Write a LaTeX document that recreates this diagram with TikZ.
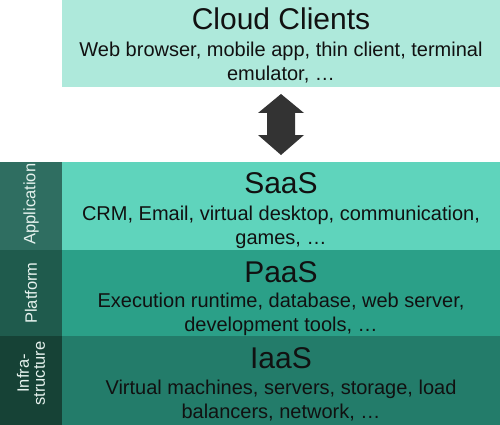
\documentclass[tikz,border=0pt]{standalone}
\usepackage{fontspec}
\setmainfont{Liberation Sans}
\usetikzlibrary{calc}
\definecolor{cloudbg}{HTML}{AEE9DB}
\definecolor{saasbg}{HTML}{5FD4BC}
\definecolor{paasbg}{HTML}{2BA088}
\definecolor{iaasbg}{HTML}{237C6A}
\definecolor{appbg}{HTML}{2F6E61}
\definecolor{platbg}{HTML}{1F5B4D}
\definecolor{infbg}{HTML}{164236}
\definecolor{arrowc}{HTML}{333333}
\definecolor{txt}{HTML}{111111}
\definecolor{sidetxt}{HTML}{E6F2EE}
\begin{document}
\begin{tikzpicture}[x=1pt,y=-1pt,
  band/.style={inner sep=0pt, outer sep=0pt, anchor=north west, minimum width=438pt},
  side/.style={inner sep=0pt, outer sep=0pt, anchor=north west, minimum width=62pt},
  title/.style={inner sep=0pt, anchor=base, text=txt, font=\fontsize{30}{36}\selectfont},
  desc/.style={inner sep=0pt, anchor=base, text=txt, font=\fontsize{20}{24}\selectfont},
  sidelabel/.style={inner sep=0pt, rotate=90, text=sidetxt, align=center, font=\fontsize{16.5}{16}\selectfont}]
\useasboundingbox (0,0) rectangle (500,425);
% bands
\node[band, fill=cloudbg, minimum height=87pt] (clients) at (62,0) {};
\node[band, fill=saasbg, minimum height=88pt] (saas) at (62,162) {};
\node[band, fill=paasbg, minimum height=86pt] (paas) at (62,250) {};
\node[band, fill=iaasbg, minimum height=89pt] (iaas) at (62,336) {};
% side column
\node[side, fill=appbg, minimum height=88pt] (app) at (0,162) {};
\node[side, fill=platbg, minimum height=86pt] (plat) at (0,250) {};
\node[side, fill=infbg, minimum height=89pt] (infra) at (0,336) {};
\node[sidelabel] (applbl) at ($(app.center)+(0,-2)$) {Application};
\node[sidelabel] (platlbl) at (plat.center) {Platform};
\node[sidelabel] (infralbl) at ($(infra.center)+(0,-7)$) {Infra-\\structure};
% texts
\node[title] (clientsT) at (281,30) {Cloud Clients};
\node[desc] (clientsD1) at (281,57) {Web browser, mobile app, thin client, terminal};
\node[desc] (clientsD2) at (281,81) {emulator, \dots};
\node[title] (saasT) at (281,193) {SaaS};
\node[desc] (saasD1) at (281,220) {CRM, Email, virtual desktop, communication,};
\node[desc] (saasD2) at (281,244) {games, \dots};
\node[title] (paasT) at (281,282) {PaaS};
\node[desc] (paasD1) at (281,307) {Execution runtime, database, web server,};
\node[desc] (paasD2) at (281,331) {development tools, \dots};
\node[title] (iaasT) at (281,368) {IaaS};
\node[desc] (iaasD1) at (281,394) {Virtual machines, servers, storage, load};
\node[desc] (iaasD2) at (281,418) {balancers, network, \dots};
% double arrow between clients and saas
\coordinate (a1) at ($(clients.south)+(0,7)$);
\coordinate (a2) at ($(saas.north)+(0,-7)$);
\fill[arrowc] (a1) -- ++(23,19) -- ++(-9,0) -- ++(0,22) -- ++(9,0) -- (a2)
  -- ++(-23,-20) -- ++(9,0) -- ++(0,-22) -- ++(-9,0) -- cycle;
\end{tikzpicture}
\end{document}
